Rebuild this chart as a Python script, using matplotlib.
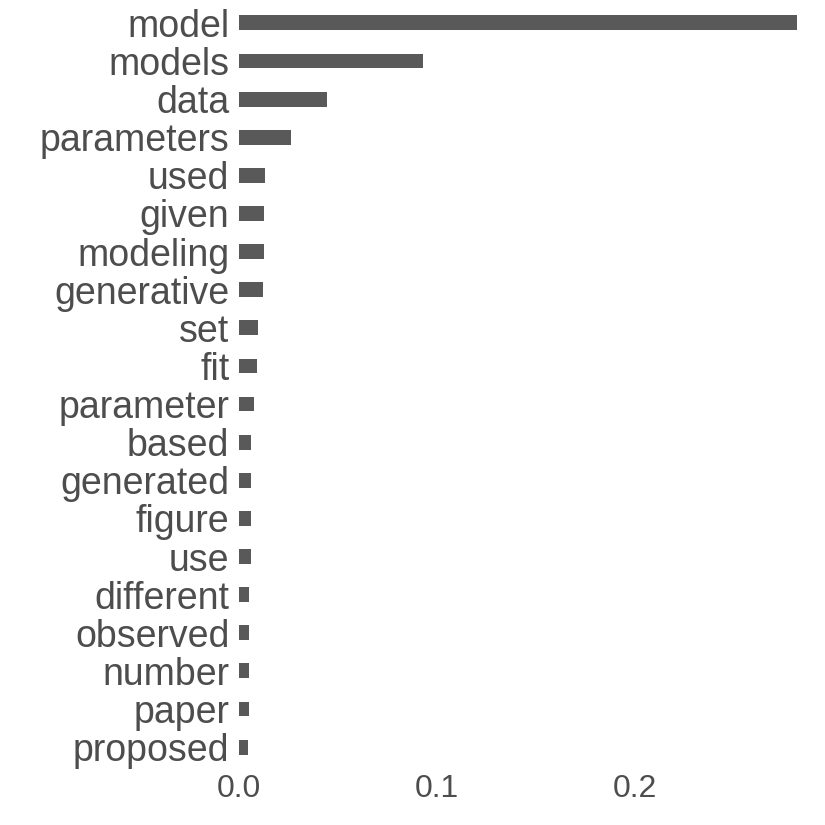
import numpy as np
import matplotlib
matplotlib.use("Agg")
import matplotlib.pyplot as plt

plt.rcParams['font.family'] = ['Liberation Sans', 'DejaVu Sans']

words = ["model", "models", "data", "parameters", "used", "given", "modeling",
         "generative", "set", "fit", "parameter", "based", "generated", "figure",
         "use", "different", "observed", "number", "paper", "proposed"]
values = [0.2822, 0.0933, 0.0446, 0.0263, 0.0132, 0.0128, 0.0128,
          0.0123, 0.0096, 0.0090, 0.0074, 0.0062, 0.0062, 0.0059,
          0.0059, 0.0052, 0.0052, 0.0049, 0.0049, 0.0047]
xticks = [0.0, 0.1, 0.2]
xticklabels = ["0.0", "0.1", "0.2"]

fig = plt.figure(figsize=(8.25, 8.25), dpi=100)
ax = fig.add_axes([239 / 825, 55 / 825, (797 - 239) / 825, 770 / 825])

ypos = np.arange(len(words), 0, -1)
ax.barh(ypos, values, height=0.39, color="#595959")

ax.set_xlim(0, max(values))
ax.set_ylim(0.4, 20.6)
ax.set_yticks(ypos)
ax.set_yticklabels(words, fontsize=27, color="#4d4d4d")
ax.set_xticks(xticks)
ax.set_xticklabels(xticklabels, fontsize=23, color="#4d4d4d")
ax.tick_params(axis="y", length=0, pad=7)
ax.tick_params(axis="x", length=0, pad=3)
for s in ax.spines.values():
    s.set_visible(False)

fig.savefig("out.png", dpi=100)
